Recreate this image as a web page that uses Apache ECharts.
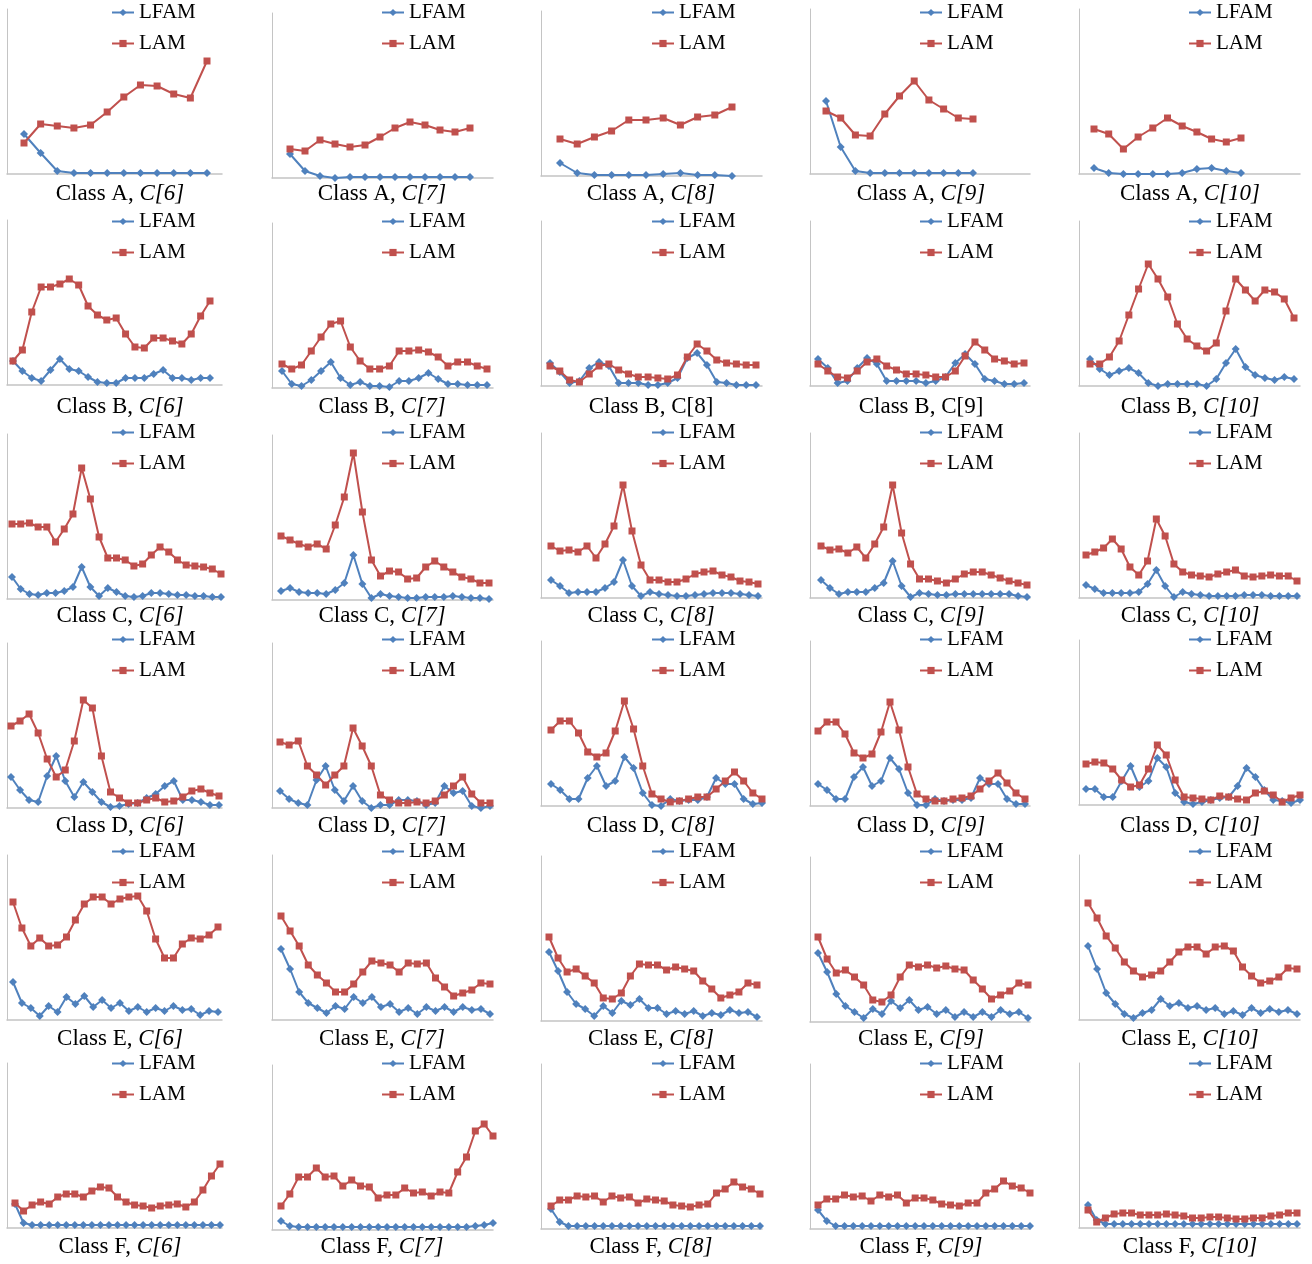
<!DOCTYPE html>
<html>
<head>
<meta charset="utf-8">
<script src="https://cdn.jsdelivr.net/npm/echarts/dist/echarts.min.js"></script>
<style>html,body{margin:0;background:#fff}#main{width:1312px;height:1264px}</style>
</head>
<body>
<div id="main"></div>
<script>
// heights of each point (plot pixels above the x axis)
var lfamA6 = [40,21,3,1,1,1,1,1,1,1,1,1];
var lamA6  = [31,50,48,46,49,62,77,89,88,80,76,113];
var lfamA7 = [24,7,2,0,1,1,1,1,1,1,1,1,1];
var lamA7  = [29,27,38,34,31,33,41,50,56,53,48,46,50];
var lfamA8 = [13,3,1,1,1,1,2,3,1,1,0];
var lamA8  = [37,32,39,45,56,56,58,51,59,61,69];
var lfamA9 = [73,27,3,1,1,1,1,1,1,1,1];
var lamA9  = [63,56,39,38,60,78,93,74,65,56,55];
var lfamA10 = [6,1,0,0,0,0,1,5,6,3,1];
var lamA10  = [45,40,25,37,46,56,48,42,35,32,36];

var lfamB6 = [24,14,7,4,15,26,16,14,8,3,2,2,7,7,7,11,15,7,7,5,7,7];
var lamB6  = [24,35,73,98,98,101,106,100,79,70,65,67,51,38,37,47,47,44,41,51,69,84];
var lfamB7 = [17,4,2,8,17,26,10,3,6,2,2,1,7,7,10,15,9,4,4,3,3,3];
var lamB7  = [24,19,23,37,51,64,67,41,27,19,19,22,37,37,38,36,31,22,26,26,22,19];
var lfamB8 = [23,14,3,5,18,24,20,3,3,3,1,1,3,8,28,33,21,4,3,1,1,1];
var lamB8  = [20,15,6,4,12,20,22,16,12,9,9,8,7,11,29,42,35,26,23,22,21,21];
var lfamB9 = [27,18,3,5,18,28,22,5,5,5,5,3,5,9,23,32,22,7,5,2,2,3];
var lamB9  = [22,15,9,8,15,24,27,20,16,12,12,11,9,9,15,30,44,36,27,25,22,23];
var lfamB10 = [27,17,11,15,18,13,3,0,2,2,2,2,0,7,23,37,19,11,8,6,9,7];
var lamB10  = [22,22,29,45,71,97,122,107,89,62,47,40,35,43,75,107,96,85,96,94,87,68];

var lfamC6 = [22,10,5,4,6,6,8,12,32,12,3,11,7,3,2,3,6,6,5,4,4,3,3,2,2];
var lamC6  = [75,75,76,72,72,57,70,85,131,100,62,41,41,39,33,35,44,52,47,39,34,33,32,30,25];
var lfamC7 = [9,12,8,7,7,6,10,17,45,16,2,6,4,3,2,2,3,3,3,4,3,2,2,1];
var lamC7  = [64,60,56,53,56,51,75,103,147,88,40,24,29,28,21,22,33,39,33,28,23,21,17,17];
var lfamC8 = [18,12,5,6,6,6,10,16,38,12,2,6,4,3,2,2,3,4,5,5,5,4,3,2];
var lamC8  = [52,47,48,46,52,40,54,72,113,67,33,18,18,16,16,19,24,26,27,23,21,17,16,14];
var lfamC9 = [18,10,4,6,6,6,10,15,37,12,1,5,4,3,3,4,4,4,4,4,4,4,2,1];
var lamC9  = [52,48,49,45,51,40,54,71,113,65,34,19,19,17,15,19,24,26,26,23,20,17,15,13];
var lfamC10 = [13,9,5,5,5,5,6,14,28,12,1,6,4,3,2,2,2,2,3,3,3,2,2,2,2];
var lamC10  = [43,46,50,59,49,31,23,37,79,62,34,26,23,22,21,24,26,28,22,21,22,23,22,22,17];

var lfamD6 = [31,18,8,6,32,52,27,11,26,16,6,1,2,4,5,10,14,22,27,8,8,6,3,3];
var lamD6  = [82,87,94,75,49,31,38,67,108,100,52,16,10,5,5,8,10,6,7,11,17,19,15,12];
var lfamD7 = [17,9,5,3,28,42,18,7,22,7,0,3,3,8,8,7,3,5,22,15,17,2,0,2];
var lamD7  = [66,63,67,42,33,23,33,42,80,62,42,13,8,5,5,6,5,7,13,22,31,14,5,5];
var lfamD8 = [22,16,7,7,28,40,20,25,49,38,13,1,0,7,5,6,6,9,28,22,22,7,2,3];
var lamD8  = [76,85,85,73,54,49,53,75,105,77,40,12,7,4,5,7,9,9,17,25,34,25,13,7];
var lfamD9 = [22,16,7,7,29,39,20,25,48,37,13,1,1,7,5,6,6,8,28,22,22,7,2,2];
var lamD9  = [75,84,84,72,53,48,52,74,104,76,39,12,7,5,5,7,8,10,17,25,33,23,13,7];
var lfamD10 = [16,16,8,8,24,39,18,24,47,38,12,3,1,3,5,7,8,19,37,28,15,5,4,2,5];
var lamD10  = [41,43,42,36,25,18,20,36,60,50,25,8,7,6,5,9,8,6,5,12,14,10,3,7,10];

var lfamE6 = [38,17,12,4,14,8,23,16,24,13,20,12,17,9,13,8,12,9,14,10,11,5,9,8];
var lamE6  = [118,92,74,82,74,75,83,100,116,123,123,116,121,123,124,109,81,62,62,76,82,81,85,93];
var lfamE7 = [71,51,28,17,12,7,14,11,23,17,23,13,16,8,12,6,13,9,13,8,13,10,11,6];
var lamE7  = [104,89,74,55,45,37,28,28,36,48,59,57,55,48,57,56,57,42,33,24,27,30,37,36];
var lfamE8 = [69,50,29,17,12,5,15,8,20,16,22,13,13,7,10,7,10,5,8,6,11,8,9,4];
var lamE8  = [84,63,49,52,45,38,23,22,28,45,57,56,56,51,54,52,50,40,32,23,26,29,38,36];
var lfamE9 = [69,50,28,16,10,4,13,8,21,14,22,12,15,8,12,5,10,5,10,5,12,8,10,4];
var lamE9  = [85,63,49,52,45,37,22,20,27,45,57,55,57,54,56,53,52,42,33,23,27,31,39,37];
var lfamE10 = [74,51,27,16,6,2,7,10,21,14,17,12,14,10,12,6,9,5,12,7,11,8,10,6];
var lamE10  = [117,102,84,72,58,49,43,45,49,58,68,73,73,66,73,74,69,53,44,37,39,43,52,51];

var lfamF6 = [24,5,3,3,3,3,3,3,3,3,3,3,3,3,3,3,3,3,3,3,3,3,3,3,3];
var lamF6  = [25,17,23,26,24,31,34,34,31,37,41,40,31,26,23,22,20,22,23,24,21,26,38,52,64];
var lfamF7 = [9,4,3,3,3,3,3,3,3,3,3,3,3,3,3,3,3,3,3,3,3,3,4,5,7];
var lamF7  = [24,36,53,53,62,53,54,44,50,44,43,32,35,35,42,37,38,34,38,37,58,73,99,106,94];
var lfamF8 = [20,7,3,3,3,3,3,3,3,3,3,3,3,3,3,3,3,3,3,3,3,3,3,3,3];
var lamF8  = [23,29,29,33,32,33,27,33,31,32,26,30,29,28,24,23,22,24,25,36,40,47,42,40,35];
var lfamF9 = [19,8,3,3,3,3,3,3,3,3,3,3,3,3,3,3,3,3,3,3,3,3,3,3,3];
var lamF9  = [24,30,30,34,32,33,28,34,32,34,26,31,31,29,25,24,23,26,26,36,40,48,43,41,36];
var lfamF10 = [23,8,4,4,4,4,4,4,4,4,4,4,4,4,4,4,4,4,4,4,4,4,4,4,4];
var lamF10  = [18,6,10,14,15,15,13,13,13,14,13,12,10,10,11,11,10,9,9,10,10,12,13,15,15];

var classes = ['A', 'B', 'C', 'D', 'E', 'F'];
var sizes = ['6', '7', '8', '9', '10'];
var uprightLabels = ['B8', 'B9'];

var panels = [
  [[lfamA6, lamA6], [lfamA7, lamA7], [lfamA8, lamA8], [lfamA9, lamA9], [lfamA10, lamA10]],
  [[lfamB6, lamB6], [lfamB7, lamB7], [lfamB8, lamB8], [lfamB9, lamB9], [lfamB10, lamB10]],
  [[lfamC6, lamC6], [lfamC7, lamC7], [lfamC8, lamC8], [lfamC9, lamC9], [lfamC10, lamC10]],
  [[lfamD6, lamD6], [lfamD7, lamD7], [lfamD8, lamD8], [lfamD9, lamD9], [lfamD10, lamD10]],
  [[lfamE6, lamE6], [lfamE7, lamE7], [lfamE8, lamE8], [lfamE9, lamE9], [lfamE10, lamE10]],
  [[lfamF6, lamF6], [lfamF7, lamF7], [lfamF8, lamF8], [lfamF9, lamF9], [lfamF10, lamF10]]
];

// layout
var H = 165;
var colLeft = [7, 272, 541, 810, 1079];
var colRight = [222, 493, 762, 1030, 1300];
var colMid = [120, 382, 651, 921, 1190];
var legOff = [104, 109, 110, 109, 109];
var legTop = [2, 211, 422, 629, 841, 1053];
var labelY = [194, 407, 616, 826, 1039, 1247];
var baseY = [
  [174, 178, 176, 174, 174],
  [385, 388, 386, 386, 386],
  [599, 600, 598, 598, 598],
  [808, 808, 806, 806, 805],
  [1020, 1020, 1021, 1022, 1020],
  [1228, 1230, 1229, 1229, 1228]
];
var firstX = [
  [24, 290, 560, 826, 1094],
  [13, 282, 550, 818, 1090],
  [12, 281, 551, 821, 1086],
  [11, 280, 551, 818, 1086],
  [13, 281, 549, 818, 1088],
  [15, 281, 551, 818, 1088]
];
var lastX = [
  [207, 470, 732, 973, 1241],
  [210, 487, 756, 1024, 1294],
  [221, 489, 758, 1027, 1297],
  [219, 490, 762, 1025, 1300],
  [218, 490, 757, 1028, 1297],
  [220, 493, 760, 1030, 1297]
];

var BLUE = '#4f81bd', RED = '#c0504d', AXIS = '#c4c4c4';
var FONT = "'Liberation Serif', 'Times New Roman', 'DejaVu Serif', serif";

var grid = [], xAxis = [], yAxis = [], series = [], legend = [], graphic = [];

function pts(arr) {
  return arr.map(function (v, i) { return [i, v]; });
}

for (var r = 0; r < 6; r++) {
  for (var c = 0; c < 5; c++) {
    var k = r * 5 + c;
    var lf = panels[r][c][0], la = panels[r][c][1];
    var n = la.length;
    var step = (lastX[r][c] - firstX[r][c]) / (n - 1);
    grid.push({
      left: colLeft[c], top: baseY[r][c] - H,
      width: colRight[c] - colLeft[c], height: H
    });
    xAxis.push({
      gridIndex: k, type: 'value',
      min: -(firstX[r][c] - colLeft[c]) / step,
      max: (n - 1) + (colRight[c] - lastX[r][c]) / step,
      axisLine: { onZero: false, lineStyle: { color: AXIS, width: 1.5 } },
      axisTick: { show: false }, axisLabel: { show: false }, splitLine: { show: false }
    });
    yAxis.push({
      gridIndex: k, type: 'value', min: 0, max: H,
      axisLine: { show: true, onZero: false, lineStyle: { color: AXIS, width: 1 } },
      axisTick: { show: false }, axisLabel: { show: false }, splitLine: { show: false }
    });
    series.push({
      type: 'line', name: 'LFAM', xAxisIndex: k, yAxisIndex: k,
      data: pts(lf), symbol: 'diamond', symbolSize: 8,
      itemStyle: { color: BLUE }, lineStyle: { color: BLUE, width: 2 }
    });
    series.push({
      type: 'line', name: 'LAM', xAxisIndex: k, yAxisIndex: k,
      data: pts(la), symbol: 'rect', symbolSize: 7,
      itemStyle: { color: RED }, lineStyle: { color: RED, width: 2 }
    });
    legend.push({
      data: ['LFAM', 'LAM'], orient: 'vertical', selectedMode: false,
      left: colLeft[c] + legOff[c], top: legTop[r], padding: 0,
      itemWidth: 22, itemHeight: 9, itemGap: 10,
      textStyle: { fontFamily: FONT, fontSize: 21, color: '#000', lineHeight: 21 }
    });
    var key = classes[r] + sizes[c];
    var tag = uprightLabels.indexOf(key) >= 0 ? 'u' : 'i';
    graphic.push({
      type: 'text', x: colMid[c], y: labelY[r],
      style: {
        text: '{u|Class ' + classes[r] + ', }{' + tag + '|C[' + sizes[c] + ']}',
        align: 'center', verticalAlign: 'middle',
        rich: {
          u: { fontFamily: FONT, fontSize: 23, fill: '#000' },
          i: { fontFamily: FONT, fontSize: 23, fontStyle: 'italic', fill: '#000' }
        }
      }
    });
  }
}

var chart = echarts.init(document.getElementById('main'));
chart.setOption({
  animation: false,
  backgroundColor: '#fff',
  grid: grid, xAxis: xAxis, yAxis: yAxis,
  legend: legend, series: series, graphic: graphic
});
</script>
</body>
</html>
